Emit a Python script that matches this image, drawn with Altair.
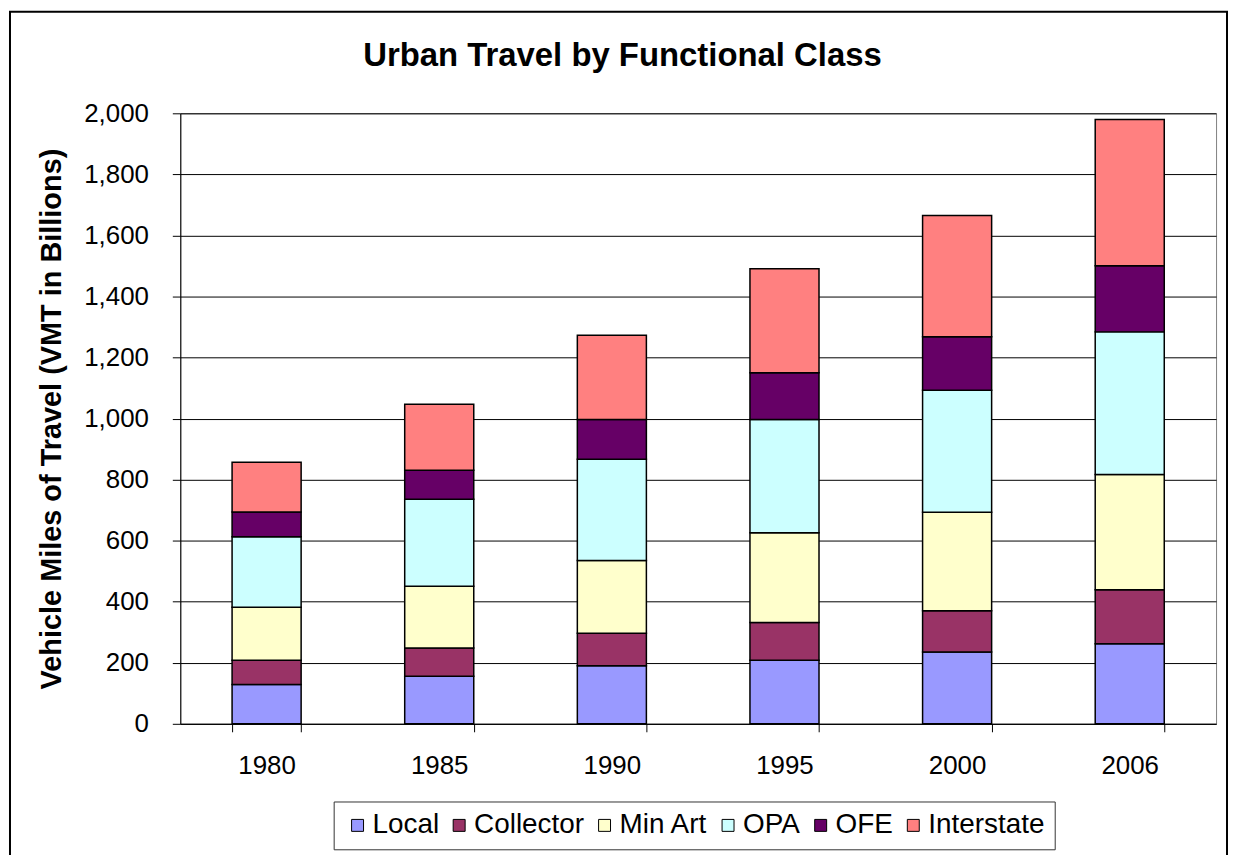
import altair as alt
import pandas as pd

years = ["1980", "1985", "1990", "1995", "2000", "2006"]
classes = ["Local", "Collector", "Min Art", "OPA", "OFE", "Interstate"]
colors = ["#9999FF", "#993366", "#FFFFCC", "#CCFFFF", "#660066", "#FF8080"]

local = [129, 156, 190, 208, 235, 262]
collector = [79, 92, 107, 124, 135, 177]
min_art = [174, 203, 238, 294, 323, 378]
opa = [231, 285, 332, 371, 400, 467]
ofe = [81, 95, 130, 153, 175, 217]
interstate = [163, 216, 276, 341, 397, 479]

y_ticks = [0, 200, 400, 600, 800, 1000, 1200, 1400, 1600, 1800, 2000]

series = [local, collector, min_art, opa, ofe, interstate]
rows = []
for ci, (cls, vals) in enumerate(zip(classes, series)):
    for yr, v in zip(years, vals):
        rows.append({"Year": yr, "Class": cls, "VMT": v, "idx": ci})
df = pd.DataFrame(rows)

W, H = 1040, 613

bars = alt.Chart(df).mark_bar(stroke="black", strokeWidth=1.5).encode(
    x=alt.X(
        "Year:N",
        sort=years,
        scale=alt.Scale(paddingInner=0.6, paddingOuter=0.3),
        axis=alt.Axis(
            title=None, labelAngle=0, labelFontSize=26, labelColor="black",
            tickBand="extent", tickSize=8, tickColor="black", domainColor="black",
            labelPadding=21, grid=False,
        ),
    ),
    y=alt.Y(
        "VMT:Q",
        stack="zero",
        scale=alt.Scale(domain=[0, 2000], nice=False),
        axis=alt.Axis(
            values=y_ticks, format=",d", labelFontSize=26, labelColor="black",
            labelPadding=24, tickSize=8, tickColor="black", domainColor="black",
            gridColor="black", gridWidth=1,
            title="Vehicle Miles of Travel (VMT in Billions)",
            titleFontSize=29, titleFontWeight="bold", titleColor="black",
            titleX=-129, titleY=H / 2, titleAngle=270,
            titleAlign="center", titleBaseline="middle",
        ),
    ),
    color=alt.Color(
        "Class:N",
        scale=alt.Scale(domain=classes, range=colors),
        legend=alt.Legend(
            title=None, orient="none", legendX=154, legendY=691,
            direction="horizontal", columns=6,
            labelFontSize=28, labelColor="black", labelOffset=1,
            symbolType="square", symbolSize=144,
            symbolStrokeColor="black", symbolStrokeWidth=1,
            columnPadding=6, padding=10,
            strokeColor="#333333", fillColor="white",
        ),
    ),
    order=alt.Order("idx:Q", sort="ascending"),
)

border = alt.Chart(alt.Data(values=[{"a": 1}])).mark_rect(
    fillOpacity=0, stroke="black", strokeWidth=2
).encode(
    x=alt.value(-171), x2=alt.value(W + 11),
    y=alt.value(-102), y2=alt.value(H + 140),
)

chart = alt.layer(bars, border).properties(
    width=W,
    height=H,
    autosize=alt.AutoSizeParams(type="none"),
    padding={"left": 173, "top": 104, "right": 12, "bottom": 135},
    title=alt.TitleParams(
        "Urban Travel by Functional Class",
        fontSize=33, fontWeight="bold", color="black",
        anchor="middle", frame="group", dx=-76, offset=-88,
        baseline="alphabetic",
    ),
).configure(
    font="Liberation Sans",
).configure_view(
    stroke="#808080", strokeWidth=1
)

chart.save("out.html", embed_options={"renderer": "svg", "actions": False})
